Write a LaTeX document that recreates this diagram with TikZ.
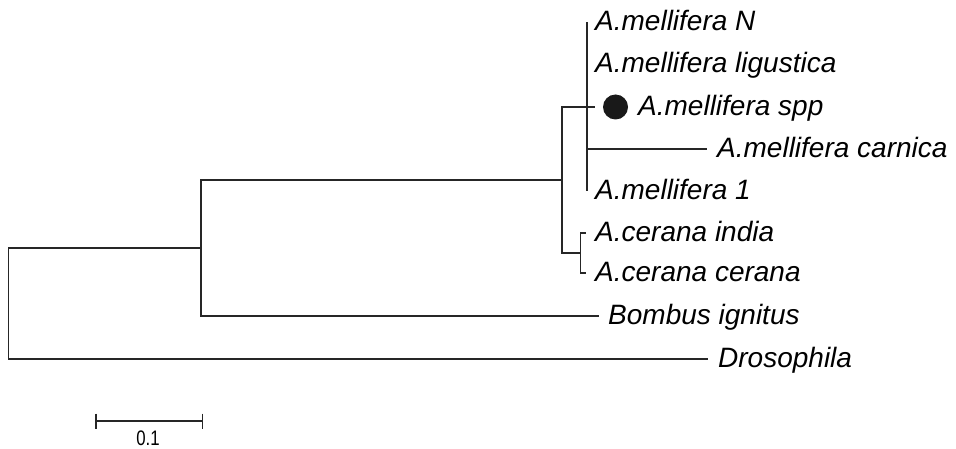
\documentclass[tikz,border=0pt]{standalone}
\usepackage{fontspec}
\setmainfont{Liberation Sans}
\usepackage{graphicx}
\begin{document}
\begin{tikzpicture}[x=1pt,y=-1pt,
  br/.style={line width=1.3pt,draw=black!85},
  lab/.style={anchor=base west,inner sep=0pt,font=\fontsize{28}{30}\selectfont\itshape},
  barlab/.style={anchor=center,inner sep=0pt,font=\fontsize{21}{23}\selectfont}]
\useasboundingbox (0,0) rectangle (956,449);
% internal nodes (x of the node, y midway between its children)
\coordinate (root) at (8.5,303.5);
\coordinate (n2) at (201,248);
\coordinate (api) at (562,180);
\coordinate (mel) at (587,107);
\coordinate (cer) at (580.5,253);
% leaf tips
\coordinate (tN) at (587,22);
\coordinate (tL) at (587,64.5);
\coordinate (tS) at (595,107);
\coordinate (tC) at (707,149);
\coordinate (t1) at (587,191.5);
\coordinate (tI) at (586,233);
\coordinate (tCc) at (586,273);
\coordinate (tB) at (599,316);
\coordinate (tD) at (708,359);
% branches
\draw[br] (root) |- (tD);
\draw[br] (root) |- (n2);
\draw[br] (n2) |- (tB);
\draw[br] (n2) |- (api);
\draw[br] (api) |- (mel);
\draw[br] (api) |- (cer);
\draw[br] (mel) |- (tN);
\draw[br] (mel) |- (tL);
\draw[br] (mel) -- (tS);
\draw[br] (mel) |- (tC);
\draw[br] (mel) |- (t1);
\draw[br] (cer) |- (tI);
\draw[br] (cer) |- (tCc);
% labels
\node[lab] (lN) at (595,30.5) {A.mellifera N};
\node[lab] (lL) at (595,73) {A.mellifera ligustica};
\node[circle,fill=black!90,inner sep=0pt,minimum size=25pt] (dot) at (615.5,107) {};
\node[lab] (lS) at (638,115.5) {A.mellifera spp};
\node[lab] (lC) at (717,157.5) {A.mellifera carnica};
\node[lab] (l1) at (595,200) {A.mellifera 1};
\node[lab] (lI) at (595,241.5) {A.cerana india};
\node[lab] (lCc) at (595,281.5) {A.cerana cerana};
\node[lab] (lB) at (608,324.5) {Bombus ignitus};
\node[lab] (lD) at (718,367.5) {Drosophila};
% scale bar
\coordinate (sa) at (96,421);
\coordinate (sb) at (202.5,421);
\draw[br] (sa) -- (sb);
\draw[br] ([yshift=7.5pt]sa) -- ([yshift=-7.5pt]sa);
\draw[br] ([yshift=7.5pt]sb) -- ([yshift=-7.5pt]sb);
\node[barlab] (sl) at (148,438.5) {\scalebox{0.8}[1]{0.1}};
\end{tikzpicture}
\end{document}
